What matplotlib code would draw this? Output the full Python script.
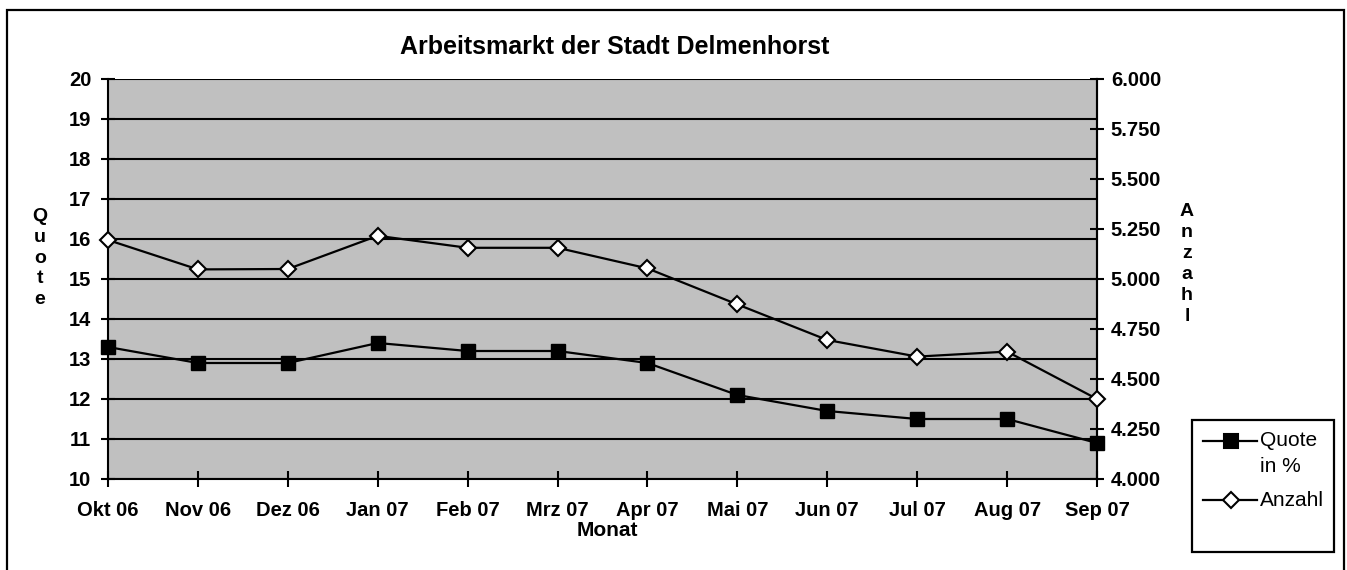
import matplotlib
matplotlib.use("Agg")
import matplotlib.pyplot as plt
from matplotlib.patches import Rectangle
from matplotlib.lines import Line2D
from matplotlib.ticker import FuncFormatter, MultipleLocator

months = ["Okt 06", "Nov 06", "Dez 06", "Jan 07", "Feb 07", "Mrz 07",
          "Apr 07", "Mai 07", "Jun 07", "Jul 07", "Aug 07", "Sep 07"]
quote = [13.3, 12.9, 12.9, 13.4, 13.2, 13.2, 12.9, 12.1, 11.7, 11.5, 11.5, 10.9]
anzahl = [5195, 5048, 5050, 5216, 5156, 5156, 5053, 4873, 4695, 4612, 4637, 4400]

plt.rcParams['font.family'] = ['Liberation Sans', 'DejaVu Sans']

W, H = 1347, 570
fig = plt.figure(figsize=(W / 100, H / 100), dpi=100)
fig.patch.set_facecolor('white')


def fx(px):
    return px / W


def fy(py):
    return 1 - py / H


# outer border (bottom edge falls outside the picture)
fig.add_artist(Rectangle((fx(7), fy(580)), fx(1344) - fx(7), fy(10) - fy(580),
                         transform=fig.transFigure, fill=False, edgecolor='black',
                         linewidth=1.6, clip_on=False))

L, R, T, B = 108, 1097, 79, 479
ax = fig.add_axes([fx(L), fy(B), fx(R) - fx(L), fy(T) - fy(B)])
ax.set_facecolor('#C0C0C0')
x = list(range(len(months)))

TS = 14.5
ax.set_xlim(0, len(months) - 1)
ax.set_ylim(10, 20)
ax.yaxis.set_major_locator(MultipleLocator(1))
ax.grid(axis='y', color='black', linewidth=1.5)
ax.set_axisbelow(True)
ax.set_xticks(x)
ax.set_xticklabels(months)
for sp in ax.spines.values():
    sp.set_linewidth(1.5)
ax.spines['top'].set_visible(False)
ax.tick_params(axis='y', direction='inout', length=10, width=1.5, labelsize=TS, pad=7)
ax.tick_params(axis='x', direction='inout', length=12, width=1.5, labelsize=TS, pad=9.5)
for lab in ax.get_xticklabels() + ax.get_yticklabels():
    lab.set_fontweight('bold')

l1, = ax.plot(x, quote, color='black', linewidth=1.6, marker='s', markersize=10,
              markerfacecolor='black', markeredgecolor='black', clip_on=False, zorder=3)

ax2 = ax.twinx()
ax2.set_ylim(4000, 6000)
ax2.yaxis.set_major_locator(MultipleLocator(250))
ax2.yaxis.set_major_formatter(FuncFormatter(lambda v, p: f"{v/1000:.3f}"))
for sp in ax2.spines.values():
    sp.set_visible(False)
ax2.spines['right'].set_visible(True)
ax2.spines['right'].set_linewidth(1.5)
ax2.tick_params(axis='y', direction='inout', length=10, width=1.5, labelsize=TS, pad=5)
for lab in ax2.get_yticklabels():
    lab.set_fontweight('bold')
l2, = ax2.plot(x, anzahl, color='black', linewidth=1.6, marker='D', markersize=8.5,
               markerfacecolor='white', markeredgecolor='black', markeredgewidth=1.5,
               clip_on=False, zorder=3)

# title and axis labels
fig.text(fx(615), fy(47), "Arbeitsmarkt der Stadt Delmenhorst", ha='center', va='center',
         fontsize=18, fontweight='bold')
fig.text(fx(607), fy(536), "Monat", ha='center', va='baseline', fontsize=15, fontweight='bold')
fig.text(fx(40), fy(258), "Q\nu\no\nt\ne", ha='center', va='center', fontsize=14,
         fontweight='bold', linespacing=1.3)
fig.text(fx(1187), fy(264), "A\nn\nz\na\nh\nl", ha='center', va='center', fontsize=14,
         fontweight='bold', linespacing=1.3)

# legend (drawn by hand to match the reference box)
fig.add_artist(Rectangle((fx(1192), fy(552)), fx(1334) - fx(1192), fy(420) - fy(552),
                         transform=fig.transFigure, fill=False, edgecolor='black',
                         linewidth=1.6))
for handle, ly in ((l1, 441), (l2, 500)):
    fig.add_artist(Line2D([fx(1203), fx(1257)], [fy(ly), fy(ly)], transform=fig.transFigure,
                          color='black', linewidth=1.6))
    fig.add_artist(Line2D([fx(1231)], [fy(ly)], transform=fig.transFigure, linestyle='none',
                          marker=handle.get_marker(), markersize=handle.get_markersize(),
                          markerfacecolor=handle.get_markerfacecolor(),
                          markeredgecolor='black', markeredgewidth=1.5))
fig.text(fx(1260), fy(441), "Quote", ha='left', va='center', fontsize=15)
fig.text(fx(1260), fy(467), "in %", ha='left', va='center', fontsize=15)
fig.text(fx(1260), fy(500), "Anzahl", ha='left', va='center', fontsize=15)

fig.savefig("out.png", dpi=100, facecolor='white')
